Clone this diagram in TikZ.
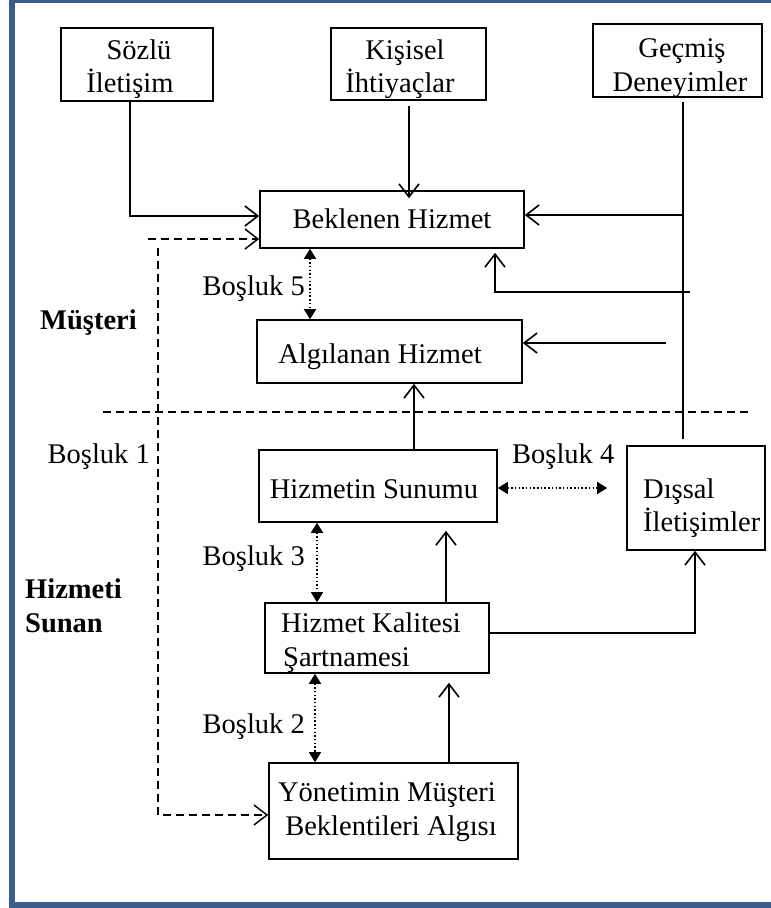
\documentclass[tikz,border=0pt]{standalone}
\usepackage{fontspec}
\setmainfont{Liberation Serif}
\usetikzlibrary{arrows.meta}
\definecolor{framec}{RGB}{58,94,140}
\begin{document}
\begin{tikzpicture}[x=1pt,y=-1pt,
  box/.style={draw, line width=1.6pt, inner sep=0pt, rectangle},
  txt/.style={inner sep=0pt, font={\fontsize{28.5}{33}\selectfont}},
  btxt/.style={inner sep=0pt, font={\fontsize{28.5}{33}\selectfont\bfseries}},
  conn/.style={line width=1.6pt},
  arr/.style={conn, -{Straight Barb[length=13pt,width=20pt]}},
  gaparr/.style={line width=1.5pt, dash pattern=on 1.5pt off 2.2pt, {Triangle[length=10pt,width=12pt]}-{Triangle[length=10pt,width=12pt]}},
  dsh/.style={line width=1.5pt, dash pattern=on 8pt off 5pt},
  darr/.style={dsh, -{Straight Barb[length=13pt,width=20pt]}},
]
\useasboundingbox (0,0) rectangle (771,908);
\fill[white] (0,0) rectangle (771,908);
\begin{scope}
\clip (0,0) rectangle (771,908);
\draw[line width=6pt, framec] (12,0) rectangle (800,905);
\end{scope}

% boxes
\node[box, minimum width=152pt, minimum height=73pt] (soz) at (137,64.5) {};
\node[box, minimum width=155pt, minimum height=72pt] (kis) at (408.5,64) {};
\node[box, minimum width=169pt, minimum height=73pt] (gec) at (677.5,60.5) {};
\node[box, minimum width=264pt, minimum height=57pt] (bek) at (392,219.5) {};
\node[box, minimum width=265pt, minimum height=63pt] (alg) at (389.5,351.5) {};
\node[box, minimum width=238pt, minimum height=72pt] (sun) at (378,486) {};
\node[box, minimum width=138pt, minimum height=104pt] (dis) at (696,498) {};
\node[box, minimum width=224pt, minimum height=70pt] (kal) at (377,638) {};
\node[box, minimum width=249pt, minimum height=96pt] (yon) at (393.5,811) {};

% box texts
\node[txt, anchor=base] (sozA) at (139,59) {Sözlü};
\node[txt, anchor=base] (sozB) at (130,92) {İletişim};
\node[txt, anchor=base] (kisA) at (405,59) {Kişisel};
\node[txt, anchor=base] (kisB) at (400,92) {İhtiyaçlar};
\node[txt, anchor=base] (gecA) at (682,57) {Geçmiş};
\node[txt, anchor=base] (gecB) at (680,91) {Deneyimler};
\node[txt, anchor=base] (bekT) at (392,228) {Beklenen Hizmet};
\node[txt, anchor=base] (algT) at (380,363) {Algılanan Hizmet};
\node[txt, anchor=base] (sunT) at (374,498) {Hizmetin Sunumu};
\node[txt, anchor=base west] (disA) at (643,498) {Dışsal};
\node[txt, anchor=base west] (disB) at (643,531) {İletişimler};
\node[txt, anchor=base west] (kalA) at (281,632) {Hizmet Kalitesi};
\node[txt, anchor=base west] (kalB) at (283,666) {Şartnamesi};
\node[txt, anchor=base] (yonA) at (387,801) {Yönetimin Müşteri};
\node[txt, anchor=base] (yonB) at (391,835) {Beklentileri Algısı};

% side labels
\node[txt, anchor=base east] (g5) at (305,295) {Boşluk 5};
\node[txt, anchor=base east] (g1) at (150,463) {Boşluk 1};
\node[txt, anchor=base west] (g4) at (512,463) {Boşluk 4};
\node[txt, anchor=base east] (g3) at (305,565) {Boşluk 3};
\node[txt, anchor=base east] (g2) at (305,733) {Boşluk 2};
\node[btxt, anchor=base west] (mus) at (40,329) {Müşteri};
\node[btxt, anchor=base west] (hizA) at (25,598) {Hizmeti};
\node[btxt, anchor=base west] (hizB) at (25,632) {Sunan};

% connectors
\coordinate (c1) at (130,216);
\draw[arr] (soz.south -| c1) -- (c1) -- (bek.west |- c1);

\coordinate (k1) at (409,106);
\draw[arr, shorten >=-8pt] (k1) -- (k1 |- bek.north);

\coordinate (gx) at (683,0);
\coordinate (gtop) at (gec.south -| gx);
\draw[conn, shorten <=4pt, shorten >=6pt] (gtop) -- (dis.north -| gx);
\coordinate (b1) at (683,215);
\draw[arr] (b1) -- (bek.east |- b1);
\coordinate (b2) at (690,292);
\coordinate (b2c) at (495,292);
\draw[arr, shorten >=4pt] (b2) -- (b2c) -- (b2c |- bek.south);
\coordinate (b3) at (666,343);
\draw[arr] (b3) -- (alg.east |- b3);

\coordinate (x7) at (414,0);
\draw[arr] (sun.north -| x7) -- (alg.south -| x7);

\coordinate (x5) at (310,0);
\draw[gaparr] (bek.south -| x5) -- (alg.north -| x5);
\coordinate (y4) at (0,488);
\draw[gaparr, shorten >=19pt] (sun.east |- y4) -- (dis.west |- y4);
\coordinate (x3) at (317,0);
\draw[gaparr] (sun.south -| x3) -- (kal.north -| x3);
\coordinate (x13) at (315,0);
\draw[gaparr] (kal.south -| x13) -- (yon.north -| x13);

\coordinate (x11) at (446,0);
\draw[arr, shorten >=8pt] (kal.north -| x11) -- (sun.south -| x11);
\coordinate (y12) at (0,633);
\coordinate (x12) at (695,0);
\draw[arr] (kal.east |- y12) -| (dis.south -| x12);
\coordinate (x14) at (449,0);
\draw[arr, shorten >=9pt] (yon.north -| x14) -- (kal.south -| x14);

% dashed
\coordinate (d1) at (148,239);
\draw[darr] (d1) -- (bek.west |- d1);
\coordinate (d2) at (158,248);
\coordinate (d3) at (158,815);
\draw[darr] (d2) -- (d3) -- (yon.west |- d3);
\coordinate (h1) at (103,412);
\coordinate (h2) at (751,412);
\draw[dsh] (h1) -- (h2);
\end{tikzpicture}
\end{document}
